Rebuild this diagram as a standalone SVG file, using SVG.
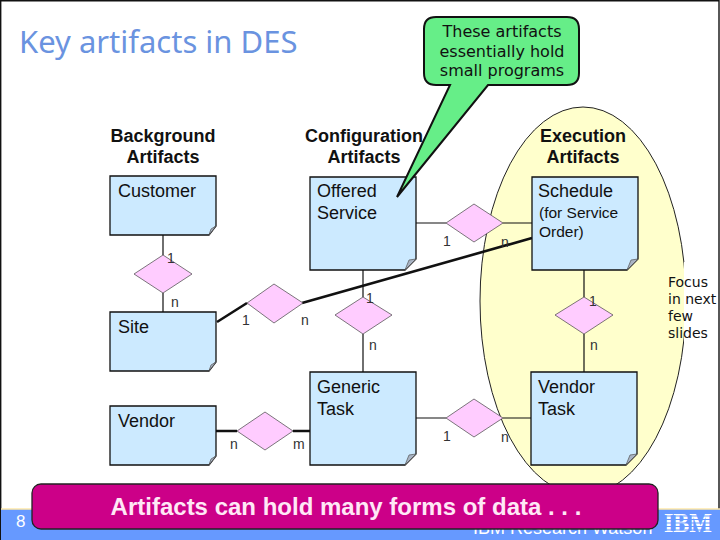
<svg xmlns="http://www.w3.org/2000/svg" width="720" height="540" viewBox="0 0 720 540">
<style>
text{font-family:"Liberation Sans",Arial,sans-serif;fill:#111}
.h{font-size:18px;font-weight:bold;text-anchor:middle}
.t{font-size:18px}
.s{font-size:15.5px}
.c{font-size:14px;fill:#333}
.v{font-family:"DejaVu Sans",Verdana,sans-serif}
.note{fill:#cceaff;stroke:#111;stroke-width:1.3}
.fold{fill:#a9b4c4;stroke:#555;stroke-width:.7}
.d{fill:#ffccff;stroke:#444;stroke-width:.7}
.l{stroke:#111;stroke-width:1.2;fill:none}
.b{stroke:#111;stroke-width:2.6;fill:none}
</style>
<rect width="720" height="540" fill="#fff"/>
<ellipse id="focus-area" cx="583" cy="301" rx="103" ry="194" fill="#ffffcc" stroke="#222" stroke-width="1"/>
<rect x="684" y="262" width="36" height="84" fill="#fff"/>
<path d="M.7 540V.7H719V509" fill="none" stroke="#111" stroke-width="1.4"/>
<g id="connectors">
<path class="l" d="M163 235V255M163 293V312M363 270V297M363 334V372M416 223H446M503 223H532M584 270V297M584 334V372M416 418H446M503 418H531"/>
<path class="b" d="M217 322L247 303M302 303L532 238M216 431H237M293 431H310"/>
</g>
<g id="customer"><path class="note" d="M110 176H216V226L209 235H110Z"/><path class="fold" d="M209 235L211 229L216 226Z"/><text class="t" x="118" y="197">Customer</text></g>
<g id="offered-service"><path class="note" d="M310 177H416V259L405 270H310Z"/><path class="fold" d="M405 270L409 260L416 259Z"/><text class="t" x="317" y="197">Offered</text><text class="t" x="317" y="219">Service</text></g>
<g id="schedule"><path class="note" d="M532 177H638V259L627 270H532Z"/><path class="fold" d="M627 270L631 260L638 259Z"/><text class="t" x="538" y="197">Schedule</text><text class="s" x="539" y="218">(for Service</text><text class="s" x="539" y="237">Order)</text></g>
<g id="site"><path class="note" d="M110 312H216V362L209 371H110Z"/><path class="fold" d="M209 371L211 365L216 362Z"/><text class="t" x="118" y="333">Site</text></g>
<g id="vendor"><path class="note" d="M110 406H216V456L209 465H110Z"/><path class="fold" d="M209 465L211 459L216 456Z"/><text class="t" x="118" y="427">Vendor</text></g>
<g id="generic-task"><path class="note" d="M310 372H416V454L405 465H310Z"/><path class="fold" d="M405 465L409 455L416 454Z"/><text class="t" x="317" y="393">Generic</text><text class="t" x="317" y="415">Task</text></g>
<g id="vendor-task"><path class="note" d="M531 372H637V454L626 465H531Z"/><path class="fold" d="M626 465L630 455L637 454Z"/><text class="t" x="538" y="393">Vendor</text><text class="t" x="538" y="415">Task</text></g>
<g id="diamond-customer-site"><path class="d" d="M163 255L192 274L163 293L134 274Z"/></g>
<g id="diamond-site-schedule"><path class="d" d="M274 284L303 303L274 323L247 303Z"/></g>
<g id="diamond-offered-generic"><path class="d" d="M363 297L392 315L363 334L335 315Z"/></g>
<g id="diamond-offered-schedule"><path class="d" d="M474 204L503 223L474 242L446 223Z"/></g>
<g id="diamond-schedule-vendor"><path class="d" d="M584 297L613 315L584 334L555 315Z"/></g>
<g id="diamond-vendor-generic"><path class="d" d="M265 412L293 431L265 450L237 431Z"/></g>
<g id="diamond-generic-vendor"><path class="d" d="M474 399L503 418L474 437L446 418Z"/></g>
<g id="labels">
<text class="c" x="167" y="263">1</text><text class="c" x="171" y="307">n</text><text class="c" x="242" y="325">1</text><text class="c" x="301" y="325">n</text>
<text class="c" x="366" y="303">1</text><text class="c" x="369" y="350">n</text><text class="c" x="443" y="246">1</text><text class="c" x="501" y="247">n</text>
<text class="c" x="589" y="306">1</text><text class="c" x="590" y="350">n</text><text class="c" x="230" y="449">n</text><text class="c" x="293" y="449">m</text>
<text class="c" x="443" y="441">1</text><text class="c" x="501" y="442">n</text>
</g>
<text class="h" x="163" y="142">Background</text><text class="h" x="163" y="163">Artifacts</text>
<text class="h" x="364" y="142">Configuration</text><text class="h" x="364" y="163">Artifacts</text>
<text class="h" x="583" y="142">Execution</text><text class="h" x="583" y="163">Artifacts</text>
<text x="19" y="53" font-size="31" style="font-family:'Noto Sans',sans-serif;fill:#6a93e0">Key artifacts in DES</text>
<g id="callout"><path d="M436 17H567Q579 17 579 29V73Q579 85 567 85H488L397 197L450 85H436Q424 85 424 73V29Q424 17 436 17Z" fill="#66ee88" stroke="#111" stroke-width="2"/>
<text class="v" x="502" y="37" font-size="16" text-anchor="middle">These artifacts</text><text class="v" x="502" y="56.5" font-size="16" text-anchor="middle">essentially hold</text><text class="v" x="502" y="76" font-size="16" text-anchor="middle">small programs</text></g>
<g id="focus-note"><text class="v" x="668" y="287" font-size="14">Focus</text><text class="v" x="668" y="304" font-size="14">in next</text><text class="v" x="668" y="321" font-size="14">few</text><text class="v" x="668" y="338" font-size="14">slides</text></g>
<g id="footer"><rect x="1" y="509" width="719" height="31" fill="#6699ff"/><path d="M1 509H720" stroke="#ffe9a8" stroke-width="1.5"/>
<text x="16" y="527" font-size="17" style="font-family:'Liberation Sans',sans-serif;fill:#fff">8</text>
<text x="473" y="534" font-size="18" style="fill:#fff">IBM Research Watson</text>
<text x="664" y="532" font-size="27" style="font-family:'Liberation Serif',serif;fill:#fff;font-weight:bold" textLength="48" lengthAdjust="spacingAndGlyphs">IBM</text>
<path d="M662 516H714M662 519.5H714M662 523H714M662 526.5H714M662 530H714" stroke="#6699ff" stroke-width="1"/></g>
<g id="banner"><rect x="32" y="484" width="626" height="45" rx="9" fill="#cc0088" stroke="#222" stroke-width="1.3"/>
<text x="346" y="515" font-size="24" font-weight="bold" text-anchor="middle" style="fill:#ffe8f6">Artifacts can hold many forms of data . . .</text></g>
</svg>
